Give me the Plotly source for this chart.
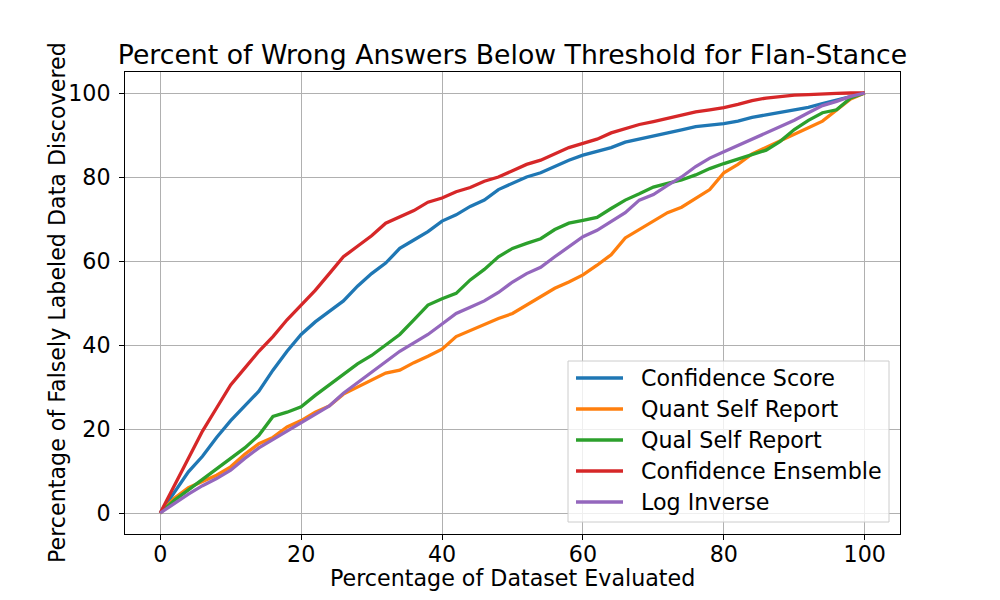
import plotly.graph_objects as go

x_pct = list(range(0, 101, 2))

confidence_score = [0, 5, 9.8, 13.5, 18, 22, 25.5, 29, 34, 38.5, 42.5, 45.5, 48, 50.5, 54, 57, 59.5, 63, 65, 67,
                    69.5, 71, 73, 74.5, 77, 78.5, 80, 81, 82.5, 84, 85.2, 86, 87, 88.3, 89, 89.7, 90.3, 91.2, 92, 92.3,
                    92.7, 93.3, 94.2, 94.8, 95.4, 96, 96.6, 97.5, 98.3, 99.2, 100]
quant_self_report = [0, 3.5, 6, 7.5, 9, 11, 14, 16.5, 18, 20.5, 22, 24, 25.5, 28.3, 30, 31.8, 33.3, 34, 35.8, 37.3,
                     39, 42, 43.5, 45, 46.3, 47.5, 49.5, 51.5, 53.5, 55, 56.7, 59, 61.5, 65.5, 67.5, 69.5, 71.5, 72.8, 74.8, 77,
                     81, 83, 85.5, 87, 88.5, 90, 91.7, 93.3, 96, 98.6, 100]
qual_self_report = [0, 3, 5.5, 8, 10.5, 13.2, 15.5, 18.5, 23, 24, 25.3, 28, 30.5, 33, 35.5, 37.5, 40, 42.5, 46, 49.5,
                    51, 52.3, 55.5, 58, 61, 63, 64.2, 65.3, 67.5, 69, 69.7, 70.4, 72.5, 74.5, 76, 77.6, 78.5, 79.3, 80.5, 82,
                    83.2, 84.3, 85.5, 86.4, 88.5, 91.3, 93.5, 95.3, 96, 98.8, 100]
confidence_ensemble = [0, 6.5, 13, 19.5, 25, 30.5, 34.5, 38.5, 42, 46, 49.5, 53, 57, 61, 63.5, 66, 69, 70.5, 72, 74,
                       75, 76.5, 77.5, 79, 80, 81.5, 83, 84, 85.5, 87, 88, 89, 90.5, 91.5, 92.5, 93.2, 94, 94.8, 95.5, 96,
                       96.5, 97.3, 98.2, 98.8, 99.2, 99.5, 99.6, 99.8, 99.9, 100, 100]
log_inverse = [0, 2.3, 4.5, 6.5, 8.2, 10.2, 13, 15.5, 17.5, 19.5, 21.5, 23.5, 25.5, 28.5, 31, 33.5, 36, 38.5, 40.5, 42.5,
               45, 47.5, 49, 50.5, 52.5, 55, 57, 58.5, 61, 63.5, 65.8, 67.3, 69.5, 71.5, 74.5, 75.8, 78, 80, 82.5, 84.5,
               86, 87.5, 89.2, 90.5, 92.2, 93.5, 95.3, 97, 98, 99.2, 100]

series_names = ["Confidence Score", "Quant Self Report", "Qual Self Report", "Confidence Ensemble", "Log Inverse"]
series_values = [confidence_score, quant_self_report, qual_self_report, confidence_ensemble, log_inverse]
colors = ["#1f77b4", "#ff7f0e", "#2ca02c", "#d62728", "#9467bd"]

x_ticks = [0, 20, 40, 60, 80, 100]
y_ticks = [0, 20, 40, 60, 80, 100]

FONT = "DejaVu Sans"
FS = 22.2
TITLE_FS = 26.7

fig = go.Figure()
for name, vals, c in zip(series_names, series_values, colors):
    fig.add_trace(go.Scatter(x=x_pct, y=vals, mode="lines", name=name,
                             line=dict(color=c, width=3.3), showlegend=False))

# page offset (body margin) compensation: plot area at absolute 125..900 x 72..534
OFF = 8
W, H, L = 775, 462, 125
def px_x(p): return (p - L) / W
def px_y(p): return (534 - p) / H

fig.add_shape(type="rect", xref="paper", yref="paper",
              x0=px_x(568), x1=px_x(889), y0=px_y(522), y1=px_y(361),
              line=dict(color="#cccccc", width=1), fillcolor="rgba(255,255,255,0.8)", layer="above")
entry_y = [378, 409, 440, 471, 502]
for name, c, ey in zip(series_names, colors, entry_y):
    fig.add_shape(type="line", xref="paper", yref="paper",
                  x0=px_x(576), x1=px_x(623), y0=px_y(ey), y1=px_y(ey),
                  line=dict(color=c, width=3.3), layer="above")
    fig.add_annotation(xref="paper", yref="paper", x=px_x(639), y=px_y(ey),
                       text=name, showarrow=False, xanchor="left", yanchor="middle",
                       font=dict(family=FONT, size=FS, color="black"))

axis_common = dict(showline=True, mirror=True, linecolor="black", linewidth=1,
                   showgrid=True, gridcolor="#b0b0b0", gridwidth=1, zeroline=False,
                   ticks="outside", ticklen=5, tickcolor="black",
                   tickfont=dict(family=FONT, size=FS, color="black"))

fig.update_xaxes(range=[-5, 105], tickvals=x_ticks, ticktext=[str(t) for t in x_ticks],
                 ticklabelstandoff=-5, **axis_common)
fig.update_yaxes(range=[-5, 105], tickvals=y_ticks, ticktext=[str(t) for t in y_ticks],
                 ticklabelstandoff=4, **axis_common)

fig.add_annotation(xref="paper", yref="paper", x=0.5, y=px_y(578), text="Percentage of Dataset Evaluated",
                   showarrow=False, xanchor="center", yanchor="middle",
                   font=dict(family=FONT, size=FS, color="black"))
fig.add_annotation(xref="paper", yref="paper", x=px_x(57), y=0.5, text="Percentage of Falsely Labeled Data Discovered",
                   showarrow=False, xanchor="center", yanchor="middle", textangle=-90,
                   font=dict(family=FONT, size=FS, color="black"))

fig.update_layout(
    width=1000, height=600,
    margin=dict(l=125 - OFF, r=100 + OFF, t=72 - OFF, b=66 + OFF),
    paper_bgcolor="white", plot_bgcolor="white",
    title=dict(text="Percent of Wrong Answers Below Threshold for Flan-Stance",
               x=px_x(512.5), xref="paper", y=1 - (55 - OFF) / 600, yref="container",
               xanchor="center", yanchor="middle",
               font=dict(family=FONT, size=TITLE_FS, color="black")),
)

fig.write_html("out.html")
